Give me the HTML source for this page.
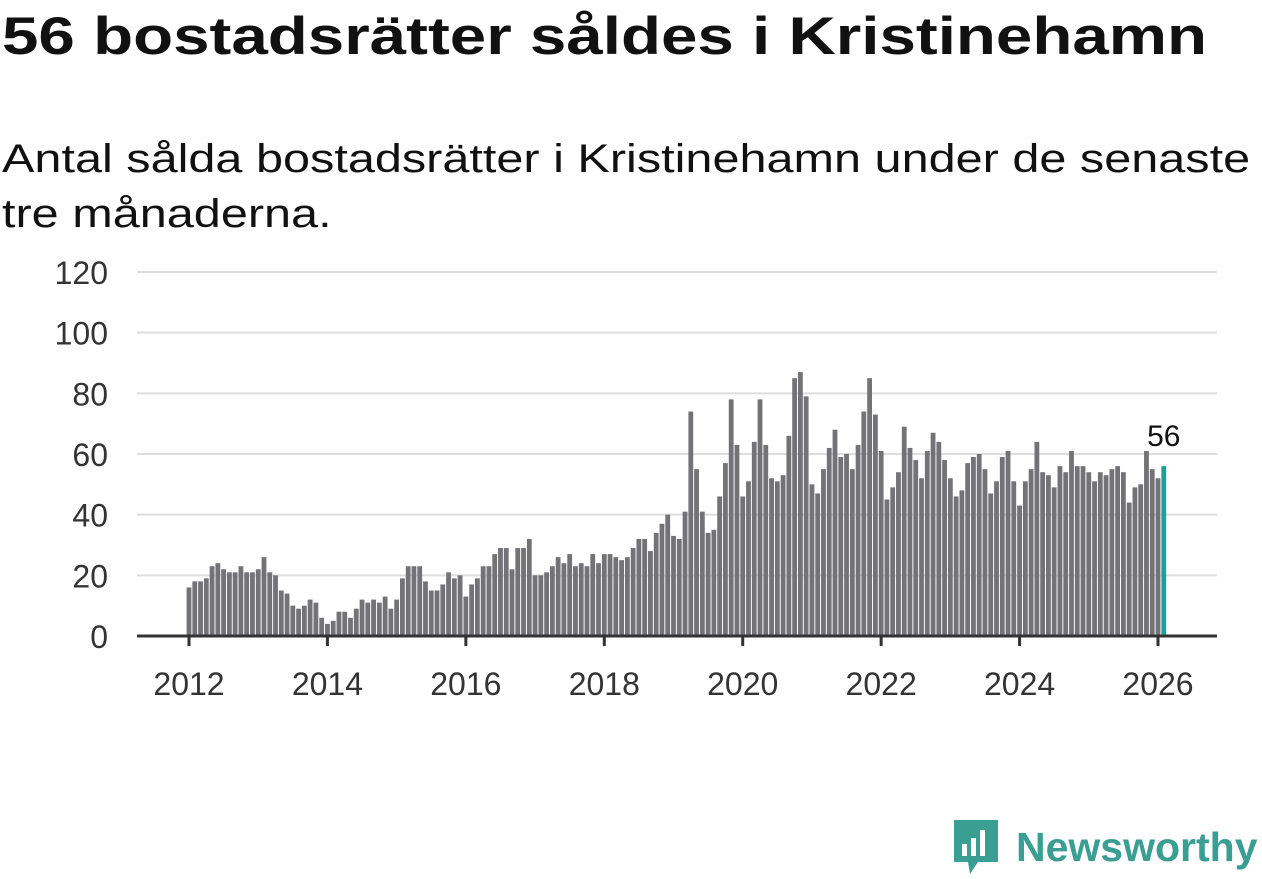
<!DOCTYPE html>
<html><head><meta charset="utf-8"><style>
body{margin:0;width:1262px;height:879px;background:#fff;font-family:"Liberation Sans",sans-serif;color:#111;overflow:hidden;position:relative}
h1{position:absolute;left:2px;top:6px;margin:0;font-size:53px;font-weight:bold;transform:scaleX(1.236);transform-origin:0 0;white-space:nowrap}
p{position:absolute;left:2px;top:132px;margin:0;font-size:40px;line-height:55px;transform:scaleX(1.215);transform-origin:0 0;white-space:nowrap}
</style></head><body>
<h1>56 bostadsrätter såldes i Kristinehamn</h1>
<p>Antal sålda bostadsrätter i Kristinehamn under de senaste<br>tre månaderna.</p>
<svg id="chart" width="1262" height="879" style="position:absolute;left:0;top:0"></svg>
<div style="position:absolute;left:952px;top:818px;display:flex;align-items:center">
<svg width="48" height="58"><path d="M2 2h44v42H26l-8 12-2-12H2z" fill="#3a9e93"/><rect x="10" y="26" width="5" height="12" fill="#fff"/><rect x="19" y="20" width="5" height="18" fill="#fff"/><rect x="28" y="12" width="5" height="26" fill="#fff"/></svg>
<span style="font-size:41px;font-weight:bold;color:#3a9e93;margin-left:16px">Newsworthy</span></div>
<script>
const values=[16,18,18,19,23,24,22,21,21,23,21,21,22,26,21,20,15,14,10,9,10,12,11,6,4,5,8,8,6,9,12,11,12,11,13,9,12,19,23,23,23,18,15,15,17,21,19,20,13,17,19,23,23,27,29,29,22,29,29,32,
20,20,21,23,26,24,27,23,24,23,27,24,27,27,26,25,26,29,32,32,28,34,37,40,33,32,41,74,55,41,34,35,46,57,78,63,46,51,64,78,63,52,51,53,66,85,87,79,50,47,55,62,68,59,60,55,63,74,85,73,61,45,49,54,69,62,58,52,61,67,64,58,52,46,48,57,59,60,55,47,51,59,61,51,43,51,55,64,54,53,49,56,54,61,56,56,54,51,54,53,55,56,54,44,49,50,61,55,52,56];
const startYear=2012;
const yTicks=[0,20,40,60,80,100,120];
const xTicks=[2012,2014,2016,2018,2020,2022,2024,2026];
const svg=document.getElementById('chart');
const NS='http://www.w3.org/2000/svg';
const y=v=>636-v*(364/120);
const x=m=>189+m*(969/168);
function el(t,a){const e=document.createElementNS(NS,t);for(const k in a)e.setAttribute(k,a[k]);svg.appendChild(e);return e;}
yTicks.forEach(t=>{
 if(t>0){const g=el('line',{x1:137,x2:1217,y1:y(t),y2:y(t),stroke:'#ddd','stroke-width':2});
 
 }
 const l=el('text',{x:108,y:y(t)+12,'text-anchor':'end','font-size':32,fill:'#333','font-family':'Liberation Sans, sans-serif'});
 l.textContent=t;
 
 
});
values.forEach((v,i)=>{
 const last=i===values.length-1;
 const r=el('rect',{x:x(i)-2.4,y:y(v),width:4.8,height:636-y(v),fill:last?'#17a398':'#737277'});
 
 
});
const ax=el('line',{x1:137,x2:1217,y1:636,y2:636,stroke:'#333','stroke-width':3});


xTicks.forEach(yr=>{
 const px=x((yr-startYear)*12);
 const t=el('line',{x1:px,x2:px,y1:636,y2:646,stroke:'#333','stroke-width':3});
 
 
 const l=el('text',{x:px,y:695,'text-anchor':'middle','font-size':32,fill:'#333','font-family':'Liberation Sans, sans-serif'});
 l.textContent=yr;
 
 
});
const li=values.length-1;
const vl=el('text',{x:x(li),y:y(values[li])-20,'text-anchor':'middle','font-size':30,fill:'#111','font-family':'Liberation Sans, sans-serif'});
vl.textContent=values[li];


</script>
</body></html>
